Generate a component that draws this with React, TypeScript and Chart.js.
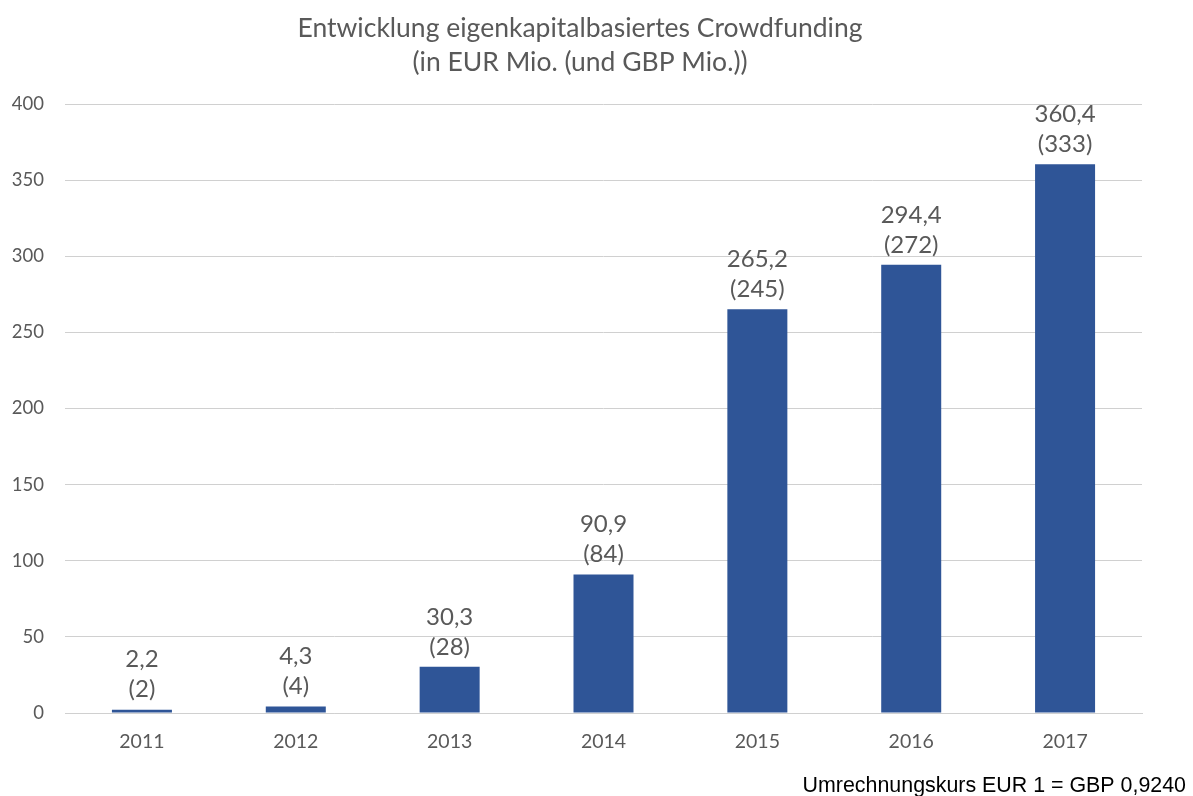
import React, { useEffect, useRef } from "react";
import { Chart, registerables } from "chart.js";

Chart.register(...registerables);

const years = ["2011", "2012", "2013", "2014", "2015", "2016", "2017"];
const eurValues = [2.2, 4.3, 30.3, 90.9, 265.2, 294.4, 360.4];
const gbpValues = [2, 4, 28, 84, 245, 272, 333];
const titleLines = [
  "Entwicklung eigenkapitalbasiertes Crowdfunding",
  "(in EUR Mio. (und GBP Mio.))",
];
const footnote = "Umrechnungskurs EUR 1 = GBP 0,9240";

const TEXT_GREY = "#595959";
const BAR_BLUE = "#2F5597";
const FONT = "Lato, 'Open Sans', sans-serif";

const fmtEur = (v: number) => v.toFixed(1).replace(".", ",");

// Draws the title, the two-line value labels above the bars, and the footnote
const decorPlugin = {
  id: "decor",
  afterDatasetsDraw(chart: any) {
    const { ctx } = chart;
    const meta = chart.getDatasetMeta(0);
    ctx.save();
    ctx.fillStyle = TEXT_GREY;
    ctx.textAlign = "center";
    ctx.textBaseline = "middle";
    ctx.font = `24px ${FONT}`;
    meta.data.forEach((bar: any, i: number) => {
      const x = bar.x;
      const top = bar.y;
      ctx.fillText(`(${gbpValues[i]})`, x, top - 20);
      ctx.fillText(fmtEur(eurValues[i]), x, top - 50);
    });

    ctx.font = `26.5px ${FONT}`;
    ctx.fillText(titleLines[0], 580, 28);
    ctx.fillText(titleLines[1], 580, 62);

    ctx.fillStyle = "#000000";
    ctx.textAlign = "right";
    ctx.font = `21.4px 'Liberation Sans', Arial, sans-serif`;
    ctx.fillText(footnote, 1186, 786);
    ctx.restore();
  },
};

export default function App() {
  const ref = useRef<HTMLCanvasElement>(null);

  useEffect(() => {
    if (!ref.current) return;
    const chart = new Chart(ref.current, {
      type: "bar",
      data: {
        labels: years,
        datasets: [
          {
            label: "EUR Mio.",
            data: eurValues,
            backgroundColor: BAR_BLUE,
            barPercentage: 0.39,
            categoryPercentage: 1,
          },
        ],
      },
      options: {
        responsive: false,
        animation: false,
        layout: { padding: { top: 104, left: 0, right: 51, bottom: 45 } },
        plugins: {
          legend: { display: false },
          title: { display: false },
          tooltip: { enabled: false },
        },
        scales: {
          x: {
            grid: { display: false, drawTicks: false },
            border: { color: "#D0D0D0", width: 1 },
            ticks: {
              color: TEXT_GREY,
              font: { family: FONT, size: 19.5 },
              padding: 17,
            },
            afterFit: (scale: any) => {
              scale.height = 38;
            },
          },
          y: {
            min: 0,
            max: 400,
            ticks: {
              stepSize: 50,
              color: TEXT_GREY,
              font: { family: FONT, size: 18.5 },
              padding: 21,
            },
            grid: { color: "#D0D0D0", lineWidth: 1, drawTicks: false },
            border: { display: false },
            afterFit: (scale: any) => {
              scale.width = 65;
            },
          },
        },
      },
      plugins: [decorPlugin],
    });
    return () => chart.destroy();
  }, []);

  return (
    <div style={{ position: "fixed", left: 0, top: 0, width: 1193, height: 796, background: "#fff" }}>
      <canvas ref={ref} width={1193} height={796} />
    </div>
  );
}
